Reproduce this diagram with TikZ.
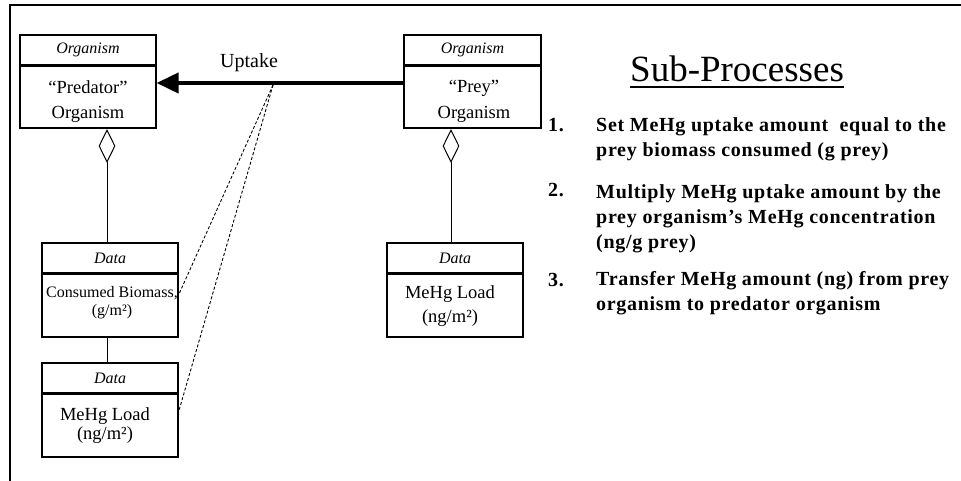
\documentclass[tikz,border=0pt]{standalone}
\usepackage{fontspec}
\setmainfont{Liberation Serif}
\newfontfamily\stepfont[LetterSpace=3.5]{Liberation Serif}
\usetikzlibrary{arrows.meta,shapes.geometric}

\begin{document}
\begin{tikzpicture}[x=1pt,y=-1pt,
  boxline/.style={draw, line width=1.1pt},
  hdr/.style={boxline, minimum height=30pt, inner sep=0pt,
    font=\fontsize{16}{17}\selectfont\itshape},
  body/.style={boxline, minimum height=63pt, inner sep=0pt},
  label/.style={anchor=base, inner sep=0pt, align=center},
  sep/.style={line width=2.2pt},
  agg/.style={draw, line width=1pt, diamond, minimum width=16pt,
    minimum height=32pt, inner sep=0pt, anchor=north},
  link/.style={line width=1pt},
  trace/.style={line width=0.9pt, dash pattern=on 3pt off 2pt},
  stepnum/.style={anchor=base west, inner sep=0pt,
    font=\fontsize{20}{25}\selectfont\stepfont\bfseries},
  steptext/.style={anchor=base west, inner sep=0pt, align=left,
    font=\fontsize{20}{25}\selectfont\stepfont\bfseries}]

\useasboundingbox (0,0) rectangle (961,481);

% outer frame (top and left edges)
\draw[line width=2.5pt] (10,481) -- (10,5) -- (961,5);

% predator organism
\node[hdr, minimum width=136pt] (predH) at (88,50) {Organism};
\node[body, minimum width=136pt] (predB) at (88,96.5) {};
\node[label, font=\fontsize{18.5}{25}\selectfont] (predT) at (88,119) {“Predator”\\Organism};
\draw[sep] (predH.south west) -- (predH.south east);

% predator data: consumed biomass
\node[hdr, minimum width=136pt] (d1H) at (110,258) {Data};
\node[body, minimum width=136pt, minimum height=64pt] (d1B) at (110,305) {};
\node[label, font=\fontsize{16}{18}\selectfont] (d1T) at (112,315) {Consumed Biomass,\\(g/m²)};
\draw[sep] (d1H.south west) -- (d1H.south east);

% predator data: MeHg load
\node[hdr, minimum width=136pt] (d2H) at (110,378) {Data};
\node[body, minimum width=136pt, minimum height=64pt] (d2B) at (110,425) {};
\node[label, font=\fontsize{18.5}{19}\selectfont] (d2T) at (105,439) {MeHg Load\\(ng/m²)};
\draw[sep] (d2H.south west) -- (d2H.south east);

% prey organism
\node[hdr, minimum width=137pt] (preyH) at (472.5,50) {Organism};
\node[body, minimum width=137pt] (preyB) at (472.5,96.5) {};
\node[label, font=\fontsize{18.5}{26}\selectfont] (preyT) at (474,119) {“Prey”\\Organism};
\draw[sep] (preyH.south west) -- (preyH.south east);

% prey data: MeHg load
\node[hdr, minimum width=136pt] (pdH) at (455,258) {Data};
\node[body, minimum width=136pt, minimum height=64pt] (pdB) at (455,305) {};
\node[label, font=\fontsize{18.5}{24}\selectfont] (pdT) at (450,322) {MeHg Load\\(ng/m²)};
\draw[sep] (pdH.south west) -- (pdH.south east);

% aggregation diamonds and links
\node[agg] (predD) at (107,129.5) {};
\draw[link] (predD.south) -- (predD.south |- d1H.north);
\draw[link] (d1B.south -| predD.south) -- (d2H.north -| predD.south);
\node[agg] (preyD) at (451,129.5) {};
\draw[link] (preyD.south) -- (preyD.south |- pdH.north);

% uptake flow
\coordinate (upt) at (273,83);
\draw[line width=4pt, -{Triangle[length=22pt,width=20pt]}]
  (preyB.west |- upt) -- (predB.east |- upt);
\node[font=\fontsize{20}{22}\selectfont, anchor=base] (uptL) at (249,68) {Uptake};
\draw[trace] ([yshift=-2pt]upt) -- ([yshift=10pt]d1B.east);
\draw[trace] ([yshift=-2pt]upt) -- ([yshift=13pt]d2B.east);

% sub-process list
\node[anchor=base west, inner sep=0pt, font=\fontsize{37}{40}\selectfont]
  (title) at (630,82) {Sub-Processes};
\draw[line width=1.3pt] ([yshift=-5pt]title.base west) -- ([yshift=-5pt]title.base east);

\node[stepnum] (n1) at (548,132) {1.};
\node[steptext] (s1) at (596,157) {Set MeHg uptake amount\ \ equal to the\\prey biomass consumed (g prey)};
\node[stepnum] (n2) at (548,197) {2.};
\node[steptext] (s2) at (596,248) {Multiply MeHg uptake amount by the\\prey organism’s MeHg concentration\\(ng/g prey)};
\node[stepnum] (n3) at (548,286) {3.};
\node[steptext] (s3) at (596,310) {Transfer MeHg amount (ng) from prey\\organism to predator organism};

\end{tikzpicture}
\end{document}
